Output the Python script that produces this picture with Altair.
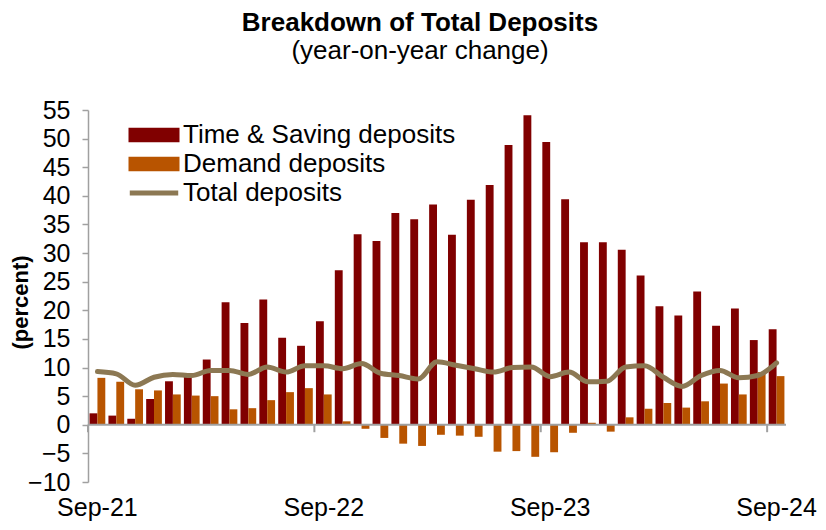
import altair as alt
import pandas as pd

months = ["Sep-21", "Oct-21", "Nov-21", "Dec-21", "Jan-22", "Feb-22", "Mar-22", "Apr-22",
          "May-22", "Jun-22", "Jul-22", "Aug-22", "Sep-22", "Oct-22", "Nov-22", "Dec-22",
          "Jan-23", "Feb-23", "Mar-23", "Apr-23", "May-23", "Jun-23", "Jul-23", "Aug-23",
          "Sep-23", "Oct-23", "Nov-23", "Dec-23", "Jan-24", "Feb-24", "Mar-24", "Apr-24",
          "May-24", "Jun-24", "Jul-24", "Aug-24", "Sep-24"]

time_saving = [2.0, 1.6, 1.05, 4.5, 7.6, 8.8, 11.4, 21.4, 17.8, 21.9, 15.2, 13.8, 18.1,
               27.0, 33.3, 32.1, 37.0, 35.9, 38.5, 33.2, 39.3, 41.9, 48.9, 54.1, 49.4,
               39.4, 31.9, 31.9, 30.6, 26.1, 20.7, 19.1, 23.3, 17.3, 20.3, 14.8, 16.7]

demand = [8.2, 7.5, 6.2, 6.0, 5.3, 5.1, 5.0, 2.7, 2.9, 4.3, 5.7, 6.4, 5.3,
          0.6, -0.7, -2.3, -3.3, -3.7, -1.75, -1.9, -2.1, -4.7, -4.6, -5.6, -4.8,
          -1.4, 0.35, -1.2, 1.3, 2.8, 3.8, 3.0, 4.1, 7.2, 5.3, 9.2, 8.5]

total = [9.3, 8.9, 6.9, 8.3, 8.8, 8.6, 9.5, 9.5, 8.8, 10.1, 9.2, 10.3, 10.3,
         9.8, 10.7, 9.0, 8.6, 8.0, 11.0, 10.4, 9.8, 9.2, 10.0, 10.1, 8.4,
         9.2, 7.5, 7.6, 10.1, 10.3, 8.3, 6.7, 8.6, 9.5, 8.2, 8.6, 10.8]

tick_labels = ["Sep-21", "Sep-22", "Sep-23", "Sep-24"]
y_ticks = [-10, -5, 0, 5, 10, 15, 20, 25, 30, 35, 40, 45, 50, 55]

bar_series = ["Time & Saving deposits", "Demand deposits"]
line_series = ["Total deposits"]
bar_colors = ["#800000", "#B85400"]
line_color = "#8C7853"

FONT = "Liberation Sans"

bars_df = pd.DataFrame({
    "month": months * 2,
    "series": [bar_series[0]] * len(months) + [bar_series[1]] * len(months),
    "value": time_saving + demand,
})
line_df = pd.DataFrame({"month": months, "series": line_series * len(months), "value": total})
ticks_df = pd.DataFrame({"month": tick_labels})

x_scale = alt.Scale(domain=months, paddingInner=0, paddingOuter=0)
y_scale = alt.Scale(domain=[-10, 55], nice=False, zero=False)

x_axis = alt.Axis(values=tick_labels, title=None, domain=False, ticks=False,
                  labelAngle=0, labelFont=FONT, labelFontSize=25,
                  labelColor="black", labelPadding=13)
y_axis = alt.Axis(values=y_ticks, grid=False, domainColor="#A0A0A0", domainWidth=1.5,
                  tickColor="#A0A0A0", tickSize=6, tickWidth=1.5,
                  labelFont=FONT, labelFontSize=25, labelColor="black", labelPadding=12,
                  title="(percent)", titleFont=FONT, titleFontSize=22,
                  titleFontWeight="bold", titleColor="black", titleAngle=270,
                  titleX=-68, titleY=192, titleAlign="center", titleBaseline="middle")

# legend symbols: paths scaled beyond the unit box so that row height stays compact
rect_path = "M-3,-0.84H3V0.84H-3Z"
line_path = "M-2.85,0H2.85"

legend_common = dict(title=None, orient="none", direction="vertical",
                     symbolSize=289, labelFont=FONT, labelFontSize=26,
                     labelColor="black", labelOffset=16, labelLimit=500,
                     rowPadding=3, padding=0)

bars = alt.Chart(bars_df).mark_bar().encode(
    x=alt.X("month:N", scale=x_scale, sort=months, axis=x_axis),
    xOffset=alt.XOffset("series:N", sort=bar_series,
                        scale=alt.Scale(domain=bar_series, paddingInner=0, paddingOuter=0.2)),
    y=alt.Y("value:Q", scale=y_scale, axis=y_axis),
    color=alt.Color("series:N", sort=bar_series,
                    scale=alt.Scale(domain=bar_series, range=bar_colors),
                    legend=alt.Legend(legendX=53, legendY=12, symbolType=rect_path,
                                      symbolStrokeWidth=0, **legend_common)),
)

zero_line = alt.Chart(ticks_df.head(1)).mark_rule(color="#A0A0A0", strokeWidth=2).encode(
    y=alt.datum(0, scale=y_scale, axis=y_axis)
)

zero_ticks = alt.Chart(ticks_df).mark_rule(color="#A0A0A0", strokeWidth=2).encode(
    x=alt.X("month:N", scale=x_scale, sort=months, bandPosition=0, axis=x_axis),
    y=alt.datum(0, axis=y_axis),
    y2=alt.datum(-1.3),
)

line = alt.Chart(line_df).mark_line(strokeWidth=5, interpolate="monotone",
                                    strokeCap="round").encode(
    x=alt.X("month:N", scale=x_scale, sort=months, axis=x_axis),
    y=alt.Y("value:Q", scale=y_scale, axis=y_axis),
    stroke=alt.Stroke("series:N", scale=alt.Scale(domain=line_series, range=[line_color]),
                      legend=alt.Legend(legendX=53, legendY=70, symbolType=line_path,
                                        symbolStrokeWidth=5, **legend_common)),
)

chart = alt.layer(bars, zero_line, zero_ticks, line).resolve_scale(
    color="independent", stroke="independent"
).properties(
    width=698,
    height=372,
    autosize=alt.AutoSizeParams(type="none"),
    padding={"left": 80, "top": 102, "right": 32, "bottom": 40},
    title=alt.TitleParams(text="Breakdown of Total Deposits",
                          subtitle="(year-on-year change)",
                          anchor="middle", font=FONT, fontSize=26, fontWeight="bold",
                          color="black", subtitleFont=FONT, subtitleFontSize=26,
                          subtitleColor="black", subtitlePadding=2, offset=34, dx=-17),
).configure_view(stroke=None)

chart.save("out.html", embed_options={"renderer": "svg", "actions": False})
